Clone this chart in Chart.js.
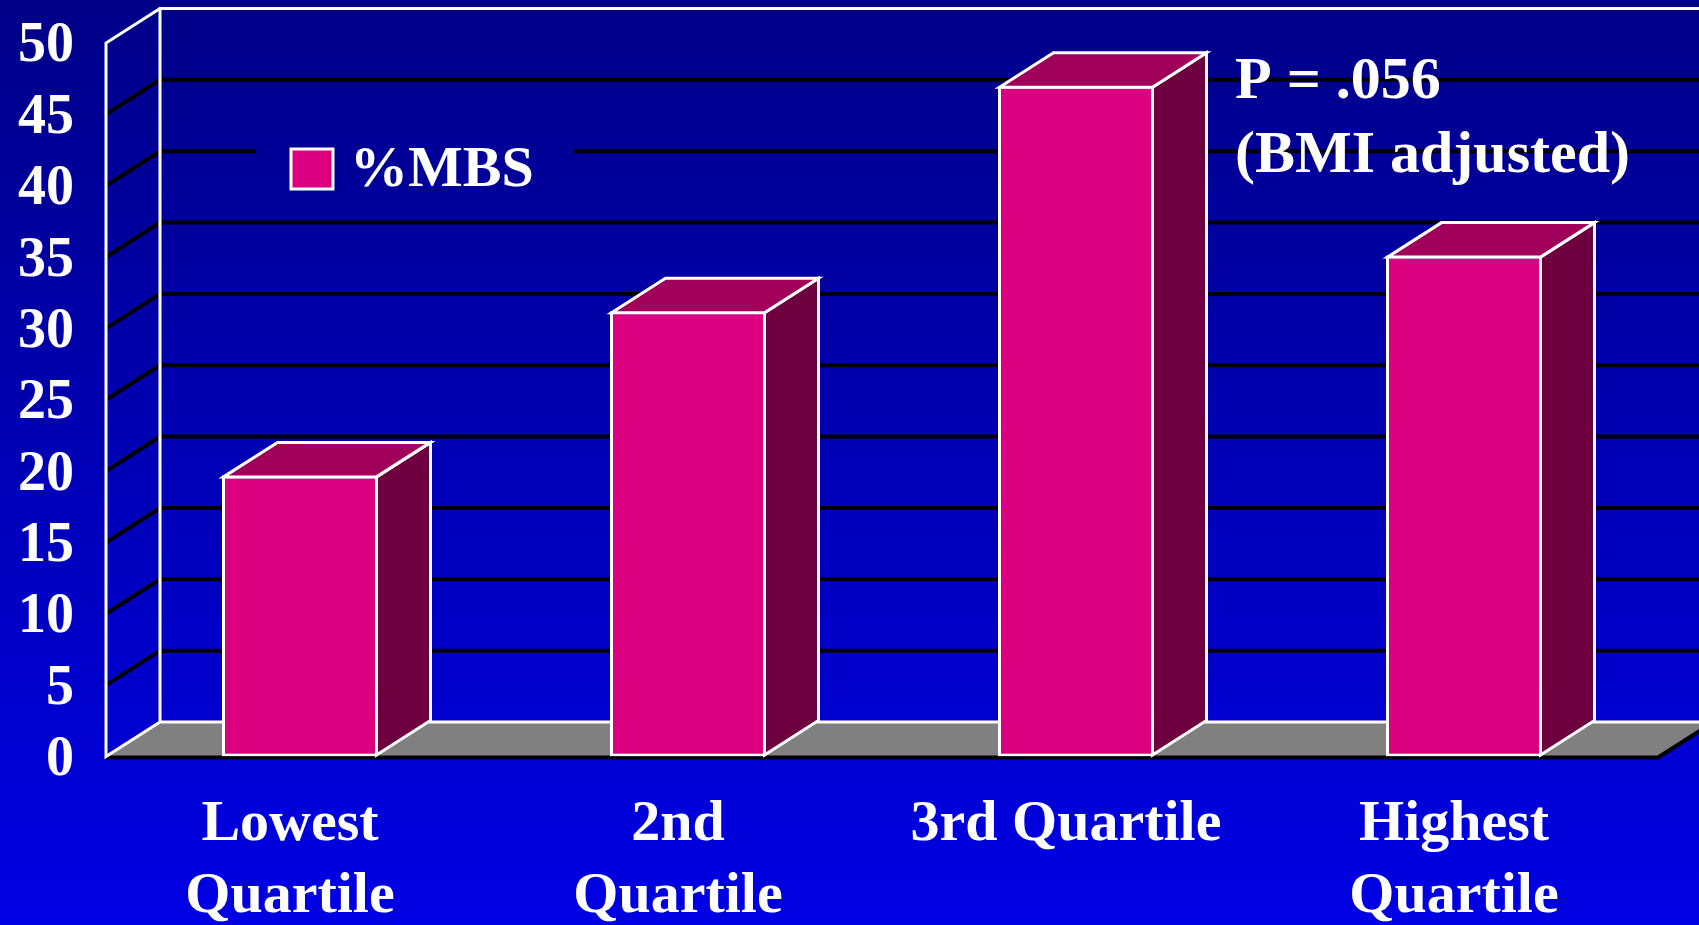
<!DOCTYPE html>
<html>
<head>
<meta charset="utf-8">
<script src="https://cdn.jsdelivr.net/npm/chart.js@4.4.1/dist/chart.umd.min.js"></script>
<style>
  html, body { margin: 0; padding: 0; background: #0000b0; overflow: hidden; }
  canvas { display: block; }
</style>
</head>
<body>
<canvas id="chart" width="1699" height="925"></canvas>
<script>
// %MBS by quartile
const categories = [['Lowest', 'Quartile'], ['2nd', 'Quartile'], '3rd Quartile', ['Highest', 'Quartile']];
const mbsValues = [19.7, 31.2, 47.0, 35.1];
const seriesName = '%MBS';
const yTicks = [0, 5, 10, 15, 20, 25, 30, 35, 40, 45, 50];
const noteLines = ['P = .056', '(BMI adjusted)'];

const FONT = "'Liberation Serif', 'Times New Roman', serif";
const DX = 54, DY = -34.5;   // depth of the fake 3D box

function bgGradient(ctx, h) {
    const g = ctx.createLinearGradient(0, 0, 0, h);
    g.addColorStop(0, '#000088');
    g.addColorStop(1, '#0000e4');
    return g;
}

function poly(ctx, pts) {
    ctx.beginPath();
    ctx.moveTo(pts[0][0], pts[0][1]);
    for (let i = 1; i < pts.length; i++) ctx.lineTo(pts[i][0], pts[i][1]);
    ctx.closePath();
    ctx.fill();
    ctx.stroke();
}

const box3d = {
    id: 'box3d',
    beforeDraw(chart) {
        const { ctx, width, height } = chart;
        ctx.save();
        ctx.fillStyle = bgGradient(ctx, height);
        ctx.fillRect(0, 0, width, height);
        ctx.restore();
    },
    beforeDatasetsDraw(chart) {
        const { ctx, width, chartArea: a } = chart;
        const y = chart.scales.y;
        const fy = y.getPixelForValue(0);
        const ty = y.getPixelForValue(50);
        ctx.save();

        // black gridlines, side wall + back wall
        ctx.strokeStyle = '#000';
        ctx.lineWidth = 4;
        yTicks.forEach(v => {
            if (v === 0 || v === 50) return;
            const py = y.getPixelForValue(v);
            ctx.beginPath();
            ctx.moveTo(a.left, py);
            ctx.lineTo(a.left + DX, py + DY);
            ctx.lineTo(width, py + DY);
            ctx.stroke();
        });

        // grey floor
        ctx.fillStyle = '#808080';
        ctx.beginPath();
        ctx.moveTo(a.left, fy);
        ctx.lineTo(a.right, fy);
        ctx.lineTo(a.right + DX, fy + DY);
        ctx.lineTo(a.left + DX, fy + DY);
        ctx.closePath();
        ctx.fill();
        ctx.strokeStyle = '#000';
        ctx.lineWidth = 4;
        ctx.beginPath();
        ctx.moveTo(a.left, fy + 1);
        ctx.lineTo(a.right, fy + 1);
        ctx.lineTo(a.right + DX, fy + DY + 1);
        ctx.stroke();

        // white frame
        ctx.strokeStyle = '#fff';
        ctx.lineWidth = 3;
        ctx.beginPath();
        ctx.moveTo(width, ty + DY);
        ctx.lineTo(a.left + DX, ty + DY);
        ctx.lineTo(a.left + DX, fy + DY);
        ctx.lineTo(width, fy + DY);
        ctx.moveTo(a.left + DX, ty + DY);
        ctx.lineTo(a.left, ty);
        ctx.lineTo(a.left, fy);
        ctx.lineTo(a.left + DX, fy + DY);
        ctx.stroke();
        ctx.restore();
    },
    afterDatasetsDraw(chart) {
        const { ctx } = chart;
        const meta = chart.getDatasetMeta(0);
        ctx.save();
        ctx.lineWidth = 3;
        ctx.strokeStyle = '#fff';
        ctx.lineJoin = 'miter';
        meta.data.forEach(bar => {
            const h = 1.5;
            const l = bar.x - bar.width / 2 + h;
            const r = bar.x + bar.width / 2 - h;
            const t = bar.y + h;
            const b = bar.base - h;
            ctx.fillStyle = '#6e0040';
            poly(ctx, [[r, t], [r + DX, t + DY], [r + DX, b + DY], [r, b]]);
            ctx.fillStyle = '#a0005a';
            poly(ctx, [[l, t], [l + DX, t + DY], [r + DX, t + DY], [r, t]]);
        });
        ctx.restore();
    },
    afterDraw(chart) {
        const { ctx, height } = chart;
        const ds = chart.data.datasets[0];
        ctx.save();
        // legend box (same background, hides gridline)
        ctx.fillStyle = bgGradient(ctx, height);
        ctx.fillRect(256, 118, 318, 97);
        ctx.fillStyle = ds.backgroundColor;
        ctx.strokeStyle = '#fff';
        ctx.lineWidth = 3;
        ctx.fillRect(291, 149, 42, 40);
        ctx.strokeRect(291, 149, 42, 40);
        ctx.fillStyle = '#fff';
        ctx.font = 'bold 58px ' + FONT;
        ctx.textBaseline = 'middle';
        ctx.textAlign = 'left';
        ctx.fillText(ds.label, 350, 171);

        // p-value note
        ctx.font = 'bold 60px ' + FONT;
        ctx.fillText(noteLines[0], 1235, 82);
        ctx.fillText(noteLines[1], 1235, 156);
        ctx.restore();
    }
};

new Chart(document.getElementById('chart'), {
    type: 'bar',
    data: {
        labels: categories,
        datasets: [{
            label: seriesName,
            data: mbsValues,
            backgroundColor: '#dc0080',
            borderColor: '#ffffff',
            borderWidth: 3,
            borderSkipped: false,
            barPercentage: 0.402,
            categoryPercentage: 1
        }]
    },
    options: {
        responsive: false,
        animation: false,
        devicePixelRatio: 1,
        layout: { padding: { top: 43, right: 41, left: 0, bottom: 0 } },
        plugins: {
            legend: { display: false },
            tooltip: { enabled: false }
        },
        scales: {
            x: {
                grid: { display: false, drawTicks: false },
                border: { display: false },
                ticks: {
                    color: '#fff',
                    font: { family: FONT, size: 58, weight: 'bold', lineHeight: 1.24 },
                    padding: 33,
                    labelOffset: -10,
                    maxRotation: 0,
                    autoSkip: false
                },
                afterFit(s) { s.height = 168.5; }
            },
            y: {
                min: 0,
                max: 50,
                // tick marks hidden; tickLength only spaces the labels from the wall
                grid: { display: false, drawTicks: true, tickLength: 32 },
                border: { display: false },
                ticks: {
                    stepSize: 5,
                    autoSkip: false,
                    color: '#fff',
                    font: { family: FONT, size: 56, weight: 'bold' },
                    padding: 0,
                    labelOffset: 4
                },
                afterFit(s) { s.width = 106; }
            }
        }
    },
    plugins: [box3d]
});
</script>
</body>
</html>
